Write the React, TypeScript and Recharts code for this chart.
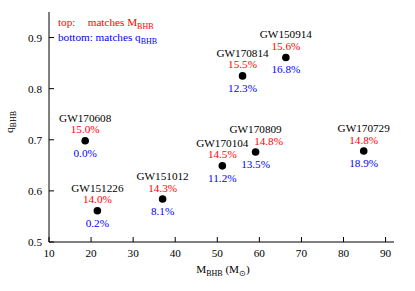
import React from 'react';
import { ScatterChart, Scatter, XAxis, YAxis, Customized } from 'recharts';

const names = ['GW150914', 'GW151012', 'GW151226', 'GW170104', 'GW170608', 'GW170729', 'GW170809', 'GW170814'];
const massBHB = [66.3, 37.0, 21.5, 51.2, 18.6, 84.8, 59.1, 56.0];
const qBHB = [0.861, 0.584, 0.561, 0.649, 0.698, 0.678, 0.676, 0.825];
const topMatch = ['15.6%', '14.3%', '14.0%', '14.5%', '15.0%', '14.8%', '14.8%', '15.5%'];
const bottomMatch = ['16.8%', '8.1%', '0.2%', '11.2%', '0.0%', '18.9%', '13.5%', '12.3%'];
const xTicks = [10, 20, 30, 40, 50, 60, 70, 80, 90];
const yTicks = [0.5, 0.6, 0.7, 0.8, 0.9];

// label-only horizontal shift of the red text (to avoid overlap)
const redShift: Record<string, number> = { GW170809: 13 };

const data = names.map((n, i) => ({ name: n, m: massBHB[i], q: qBHB[i], top: topMatch[i], bottom: bottomMatch[i] }));

const FONT = 'Liberation Serif';
const FS = 11.2;
const RED = '#ff0000';
const BLUE = '#0000ff';
const txt = { fontFamily: FONT, fontSize: FS };

const PointShape = (props: any) => {
  const { cx, cy, payload } = props;
  const dx = redShift[payload.name] || 0;
  return (
    <g>
      <circle cx={cx} cy={cy} r={3.8} fill="#000" />
      <text x={cx} y={cy - 19} textAnchor="middle" style={txt} fill="#000">{payload.name}</text>
      <text x={cx + dx} y={cy - 7.5} textAnchor="middle" style={txt} fill={RED}>{payload.top}</text>
      <text x={cx} y={cy + 16} textAnchor="middle" style={txt} fill={BLUE}>{payload.bottom}</text>
    </g>
  );
};

const Decorations = () => (
  <g>
    <text x={58} y={25.5} style={txt} fill={RED}>top:</text>
    <text x={87.7} y={25.5} style={txt} fill={RED}>
      matches M<tspan style={{ fontSize: 8 }} dy={3}>BHB</tspan>
    </text>
    <text x={58} y={40.5} style={txt} fill={BLUE}>
      bottom: matches q<tspan style={{ fontSize: 8 }} dy={3}>BHB</tspan>
    </text>
    <text x={223} y={272.5} style={txt} fill="#000" textAnchor="middle">
      M<tspan style={{ fontSize: 8 }} dy={3}>BHB</tspan><tspan dy={-3}> (M</tspan><tspan style={{ fontSize: 8 }} dy={3}>⊙</tspan><tspan dy={-3}>)</tspan>
    </text>
    <text x={13} y={122} style={txt} fill="#000" textAnchor="middle" transform="rotate(-90 13 122)">
      q<tspan style={{ fontSize: 8 }} dy={3}>BHB</tspan>
    </text>
  </g>
);

const tickStyle = { fontSize: FS, fontFamily: FONT, fill: '#000', style: { fontFamily: FONT, fontSize: FS } };

export default function App() {
  return (
    <div style={{ position: 'absolute', left: 0, top: 0, background: '#fff', fontFamily: FONT }}>
      <ScatterChart width={415} height={291} margin={{ top: 12, right: 21, bottom: 19, left: 0 }} style={{ fontFamily: FONT }}>
        <XAxis xAxisId={0} type="number" dataKey="m" domain={[10, 92]} ticks={xTicks} allowDataOverflow
          height={30} tickSize={-5} tickMargin={12} tick={tickStyle} stroke="#000" axisLine={{ stroke: '#000' }} tickLine={{ stroke: '#000' }} />
        <XAxis xAxisId="top" orientation="top" type="number" dataKey="m" domain={[10, 92]} ticks={xTicks} allowDataOverflow
          height={0} tickSize={-5} tickFormatter={() => ''} stroke="#000" />
        <YAxis yAxisId={0} type="number" dataKey="q" domain={[0.5, 0.95]} ticks={yTicks} allowDataOverflow
          width={49} tickSize={-5} tickMargin={12} tick={tickStyle} stroke="#000" tickFormatter={(v: number) => v.toFixed(1)} />
        <YAxis yAxisId="right" orientation="right" type="number" dataKey="q" domain={[0.5, 0.95]} ticks={yTicks} allowDataOverflow
          width={0} tickSize={-5} tickFormatter={() => ''} stroke="#000" />
        <Scatter data={data} xAxisId={0} yAxisId={0} fill="#000" shape={PointShape} isAnimationActive={false} />
        <Customized component={Decorations} />
      </ScatterChart>
    </div>
  );
}
